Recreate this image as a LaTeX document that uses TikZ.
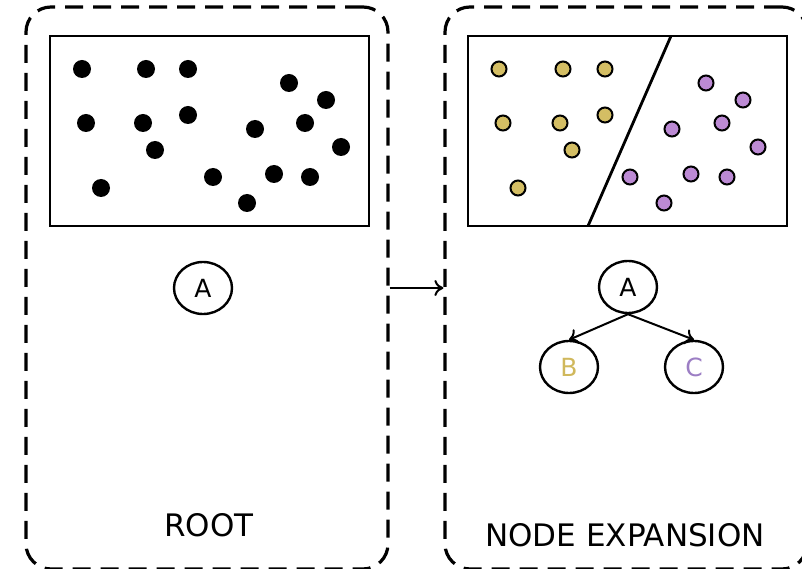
\documentclass[tikz,border=0pt]{standalone}
\usepackage{fontspec}
\setmainfont{DejaVu Sans}
\usepackage{tikz}
\usetikzlibrary{shapes.geometric, arrows.meta, positioning}
\definecolor{splitgold}{RGB}{212, 190, 100}
\definecolor{splitpurple}{RGB}{188, 138, 212}
\definecolor{labelgold}{RGB}{208, 184, 92}
\definecolor{labelpurple}{RGB}{156, 126, 196}

\tikzset{
  stagebox/.style={draw, dash pattern=on 18pt off 10pt, line width=3.2pt,
    rounded corners=25pt, minimum width=362pt, minimum height=562pt, inner sep=0pt},
  datafield/.style={draw, line width=2.8pt, minimum width=319pt, minimum height=190pt, inner sep=0pt},
  treenode/.style={draw, ellipse, line width=2.4pt, minimum width=58pt, minimum height=52pt,
    inner sep=0pt, font=\fontsize{25}{25}\selectfont},
  stagelabel/.style={font=\fontsize{31}{31}\selectfont},
  >={To[length=9pt, width=16pt]}
}

\begin{document}
\begin{tikzpicture}[x=1pt, y=1pt]
    \useasboundingbox (0,0) rectangle (802,568);

    %% the two stages
    \node[stagebox] (boxroot) at (207,280) {};
    \node[stagebox] (boxexp) at (626,280) {};
    \draw[->, line width=2pt] (boxroot) -- (boxexp);

    %% root: one unsplit field of samples
    \node[datafield] (fieldroot) at (209.5,437) {};
    \foreach \x/\y in {82/499, 146/499, 188/499, 289/485, 326/468, 86/445, 143/445,
        188/453, 255/439, 305/445, 155/418, 341/421, 101/380, 213/391, 274/394,
        310/391, 247/365}
      \fill (\x,\y) circle (9);
    \node[treenode] (rootA) at (203,280) {A};
    \node[stagelabel] (rootlabel) at (209,43) {ROOT};

    %% expansion: the same field split in two
    \node[datafield] (fieldexp) at (627.5,437) {};
    \draw[line width=2.8pt] (671,532) -- (588,342);
    \begin{scope}[xshift=417pt]
      \foreach \x/\y in {82/499, 146/499, 188/499, 86/445, 143/445, 188/453,
          155/418, 101/380}
        \draw[fill=splitgold, line width=2pt] (\x,\y) circle (7.5);
      \foreach \x/\y in {289/485, 326/468, 255/439, 305/445, 341/421, 213/391,
          274/394, 310/391, 247/365}
        \draw[fill=splitpurple, line width=2pt] (\x,\y) circle (7.5);
    \end{scope}

    \node[treenode] (expA) at (628,281) {A};
    \node[treenode, text=labelgold] (expB) at (569,201) {B};
    \node[treenode, text=labelpurple] (expC) at (694,201) {C};
    \draw[->, line width=2pt] (expA.south) -- (expB.north);
    \draw[->, line width=2pt] (expA.south) -- (expC.north);
    \node[stagelabel] (explabel) at (625,33) {NODE EXPANSION};
  \end{tikzpicture}
\end{document}
